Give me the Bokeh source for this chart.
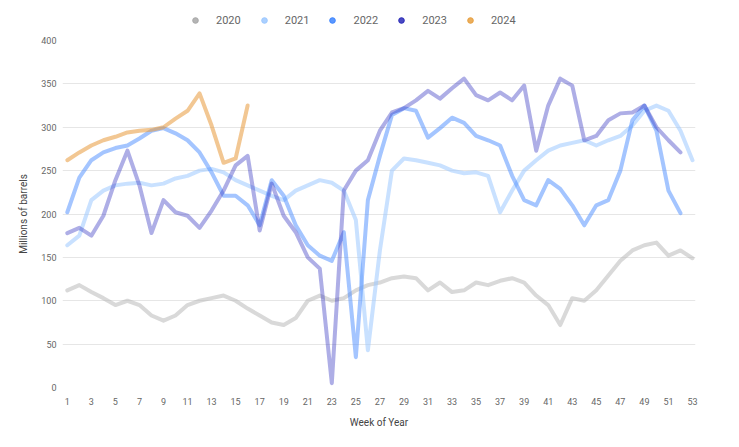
from bokeh.plotting import figure
from bokeh.models import Range1d, FixedTicker, Legend, LegendItem, ColumnDataSource
from bokeh.layouts import column
from bokeh.embed import file_html
from bokeh.resources import INLINE

weeks = list(range(1, 54))
tick_weeks = list(range(1, 54, 2))
y_ticks = [0, 50, 100, 150, 200, 250, 300, 350, 400]
years = ["2020", "2021", "2022", "2023", "2024"]

y2020 = [112, 118, 110, 103, 95, 100, 95, 83, 77, 83, 95, 100, 103, 106, 100, 91, 83, 75, 72, 80,
         100, 106, 100, 103, 112, 118, 121, 126, 128, 126, 112, 121, 110, 112, 121, 118, 123, 126, 121, 106,
         95, 72, 103, 100, 112, 129, 146, 158, 164, 167, 152, 158, 149]
y2021 = [164, 175, 216, 227, 233, 235, 236, 233, 235, 241, 244, 250, 252, 248, 239, 233, 227, 221, 216, 227,
         233, 239, 236, 227, 193, 43, 158, 250, 264, 262, 259, 256, 250, 247, 248, 244, 202, 227, 250, 262,
         273, 279, 282, 285, 279, 285, 290, 302, 319, 325, 319, 296, 262]
y2022 = [202, 242, 262, 271, 276, 279, 287, 296, 299, 293, 285, 271, 248, 221, 221, 210, 187, 239, 221, 187,
         164, 152, 146, 179, 35, 216, 267, 314, 322, 319, 288, 299, 311, 305, 290, 285, 279, 244, 216, 210,
         239, 229, 210, 187, 210, 216, 250, 308, 325, 296, 227, 201]
y2023 = [178, 184, 175, 198, 239, 273, 233, 178, 216, 202, 198, 184, 204, 227, 256, 267, 181, 235, 198, 179,
         150, 137, 5, 227, 250, 262, 296, 317, 322, 331, 342, 333, 345, 356, 337, 331, 340, 331, 348, 273,
         325, 356, 348, 285, 290, 308, 316, 317, 325, 300, 285, 271]
y2024 = [262, 271, 279, 285, 289, 294, 296, 297, 300, 310, 319, 339, 302, 259, 264, 325]

series = [y2020, y2021, y2022, y2023, y2024]
line_colors = ["#b4b4b4", "#9cc8ff", "#4a8cff", "#3434c0", "#e8993a"]
legend_colors = ["#a8a8a8", "#9cc8ff", "#3d85ff", "#2a2ab8", "#e8a040"]
alphas = [0.5, 0.55, 0.5, 0.4, 0.55]

FONT = "Roboto"
W = 731

# legend strip (separate small figure so the legend is not clipped)
lg = figure(width=W, height=32, output_backend="svg", toolbar_location=None,
            x_axis_type=None, y_axis_type=None, x_range=Range1d(0, 1), y_range=Range1d(0, 1),
            min_border_left=0, min_border_right=0, min_border_top=0, min_border_bottom=0)
lg.outline_line_color = None
lg.xgrid.visible = False
lg.ygrid.visible = False
nan = float("nan")
items = []
for yr, c in zip(years, legend_colors):
    lsrc = ColumnDataSource(dict(x=[nan], y=[nan]))
    r = lg.scatter("x", "y", source=lsrc, size=12, fill_color=c, line_color=c, fill_alpha=0.85)
    items.append(LegendItem(label=yr, renderers=[r]))
legend = Legend(items=items, orientation="horizontal", location=(126, 5),
                border_line_color=None, background_fill_alpha=0,
                label_text_font=FONT, label_text_font_size="11px", label_text_color="#666666",
                glyph_width=14, glyph_height=14, label_height=14, label_standoff=14, spacing=16,
                padding=2, margin=0)
lg.add_layout(legend, "center")

p = figure(width=W, height=407, output_backend="svg", toolbar_location=None,
           x_range=Range1d(0.6, 53.25), y_range=Range1d(0, 400),
           min_border_left=62, min_border_right=36, min_border_top=8, min_border_bottom=52)
p.outline_line_color = None
p.background_fill_color = "white"

for ys, c, a in zip(series, line_colors, alphas):
    src = ColumnDataSource(dict(x=weeks[:len(ys)], y=ys))
    p.line("x", "y", source=src, line_color=c, line_width=4, line_alpha=a,
           line_join="round", line_cap="round")

p.xaxis.ticker = FixedTicker(ticks=tick_weeks)
p.yaxis.ticker = FixedTicker(ticks=y_ticks)
p.xaxis.axis_label = "Week of Year"
p.yaxis.axis_label = "Millions of barrels"
for ax in (p.xaxis, p.yaxis):
    ax.axis_line_color = None
    ax.major_tick_line_color = None
    ax.minor_tick_line_color = None
    ax.major_tick_out = 0
    ax.major_tick_in = 0
    ax.minor_tick_out = 0
    ax.minor_tick_in = 0
    ax.major_label_text_font = FONT
    ax.major_label_text_font_size = "9px"
    ax.major_label_text_color = "#666666"
    ax.axis_label_text_font = FONT
    ax.axis_label_text_font_size = "10px"
    ax.axis_label_text_font_style = "normal"
    ax.axis_label_text_color = "#444444"
p.xaxis.major_label_standoff = 10
p.xaxis.axis_label_standoff = 9
p.yaxis.major_label_standoff = 6
p.yaxis.axis_label_standoff = 9
p.xgrid.grid_line_color = None
p.ygrid.grid_line_color = "#e6e6e6"

layout = column(lg, p, spacing=0)
open("out.html", "w").write(file_html(layout, INLINE))
